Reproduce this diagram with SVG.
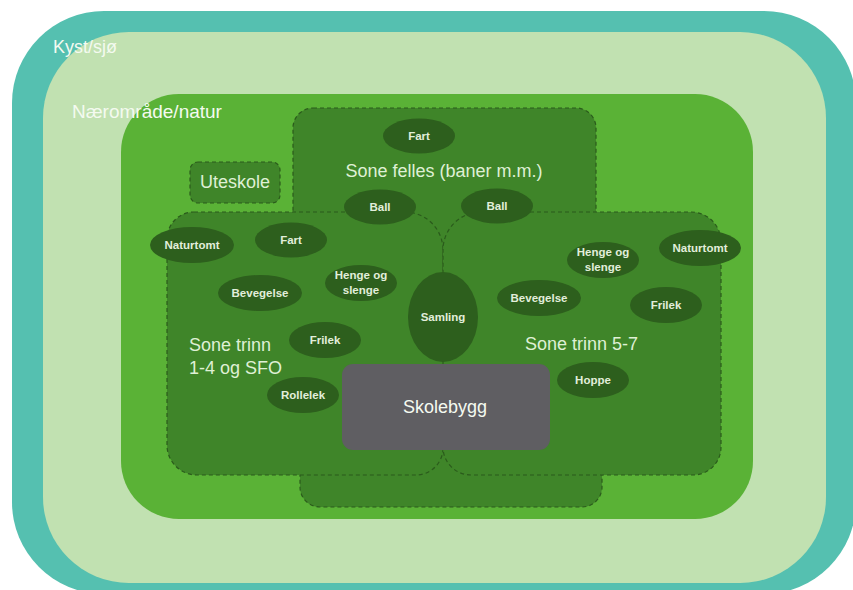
<svg xmlns="http://www.w3.org/2000/svg" width="853" height="590" viewBox="0 0 853 590">
<style>
.zone{fill:#3f8529;stroke:#2b5b1c;stroke-width:1.2;stroke-dasharray:4 3}
.el{fill:#2d5f1d}
.et{font-family:"Liberation Sans",Arial,sans-serif;font-size:11.5px;font-weight:bold;fill:#e2eedb;text-anchor:middle}
.zt{font-family:"Liberation Sans",Arial,sans-serif;font-size:18px;fill:#dff0d5}
.bt{font-family:"Liberation Sans",Arial,sans-serif;fill:#f4faf0}
</style>
<rect width="853" height="590" fill="#ffffff"/>
<g id="kyst">
<rect x="12" y="11" width="844" height="583" rx="92" fill="#55c0b0"/>
</g>
<g id="naeromrade">
<rect x="43" y="32" width="783" height="551" rx="86" fill="#c1e1b1"/>
<rect x="121" y="94" width="632" height="425" rx="58" fill="#5ab236"/>
</g>
<g id="kyst-label"><text class="bt" x="53" y="53" font-size="18">Kyst/sjø</text></g>
<g id="naeromrade-label"><text class="bt" x="72" y="118" font-size="19">Nærområde/natur</text></g>
<g id="sone-felles">
<path class="zone" d="M313 108 H576 A20 20 0 0 1 596 128 V300 L602 300 V487 A20 20 0 0 1 582 507 H320 A20 20 0 0 1 300 487 V300 L293 300 V128 A20 20 0 0 1 313 108 Z"/>
<text class="zt" x="444" y="177" text-anchor="middle">Sone felles (baner m.m.)</text>
</g>
<g id="sone-1-4">
<path class="zone" d="M194 212 H405 A38 38 0 0 1 443 250 V448 A27 27 0 0 1 416 475 H197 A30 30 0 0 1 167 445 V239 A27 27 0 0 1 194 212 Z"/>
<text class="zt" x="189" y="351">Sone trinn</text>
<text class="zt" x="189" y="374">1-4 og SFO</text>
</g>
<g id="sone-5-7">
<path class="zone" d="M481 212 H691 A30 30 0 0 1 721 242 V447 A28 28 0 0 1 693 475 H471 A28 28 0 0 1 443 447 V250 A38 38 0 0 1 481 212 Z"/>
<text class="zt" x="525" y="350">Sone trinn 5-7</text>
</g>
<g id="uteskole">
<rect class="zone" x="190" y="162" width="90" height="41" rx="8"/>
<text class="zt" x="235" y="188" font-size="16" text-anchor="middle">Uteskole</text>
</g>
<g id="skolebygg">
<rect x="342" y="364" width="208" height="86" rx="11" fill="#5f5e62"/>
<text class="bt" x="445" y="413" font-size="18" text-anchor="middle" fill="#eeeeee">Skolebygg</text>
</g>
<g id="samling"><ellipse class="el" cx="443" cy="317" rx="35" ry="45"/><text class="et" x="443" y="321">Samling</text></g>
<g id="fart-felles"><ellipse class="el" cx="419" cy="136" rx="36" ry="17.5"/><text class="et" x="419" y="140">Fart</text></g>
<g id="ball-venstre"><ellipse class="el" cx="380" cy="207" rx="36" ry="17.5"/><text class="et" x="380" y="211">Ball</text></g>
<g id="ball-hoyre"><ellipse class="el" cx="497" cy="206" rx="36" ry="17.5"/><text class="et" x="497" y="210">Ball</text></g>
<g id="naturtomt-venstre"><ellipse class="el" cx="192" cy="245" rx="42" ry="18"/><text class="et" x="192" y="249">Naturtomt</text></g>
<g id="fart-venstre"><ellipse class="el" cx="291" cy="240" rx="36" ry="17.5"/><text class="et" x="291" y="244">Fart</text></g>
<g id="bevegelse-venstre"><ellipse class="el" cx="260" cy="293" rx="42" ry="18"/><text class="et" x="260" y="297">Bevegelse</text></g>
<g id="henge-venstre"><ellipse class="el" cx="361" cy="283" rx="36" ry="18"/><text class="et" x="361" y="279">Henge og</text><text class="et" x="361" y="294">slenge</text></g>
<g id="frilek-venstre"><ellipse class="el" cx="325" cy="340" rx="36" ry="18"/><text class="et" x="325" y="344">Frilek</text></g>
<g id="rollelek"><ellipse class="el" cx="303" cy="395" rx="36" ry="18"/><text class="et" x="303" y="399">Rollelek</text></g>
<g id="bevegelse-hoyre"><ellipse class="el" cx="539" cy="298" rx="42" ry="18"/><text class="et" x="539" y="302">Bevegelse</text></g>
<g id="henge-hoyre"><ellipse class="el" cx="603" cy="260" rx="36" ry="18"/><text class="et" x="603" y="256">Henge og</text><text class="et" x="603" y="271">slenge</text></g>
<g id="naturtomt-hoyre"><ellipse class="el" cx="700" cy="248" rx="41" ry="18"/><text class="et" x="700" y="252">Naturtomt</text></g>
<g id="frilek-hoyre"><ellipse class="el" cx="666" cy="305" rx="36" ry="18"/><text class="et" x="666" y="309">Frilek</text></g>
<g id="hoppe"><ellipse class="el" cx="593" cy="380" rx="36" ry="18"/><text class="et" x="593" y="384">Hoppe</text></g>
<g id="connectors"></g>
</svg>
